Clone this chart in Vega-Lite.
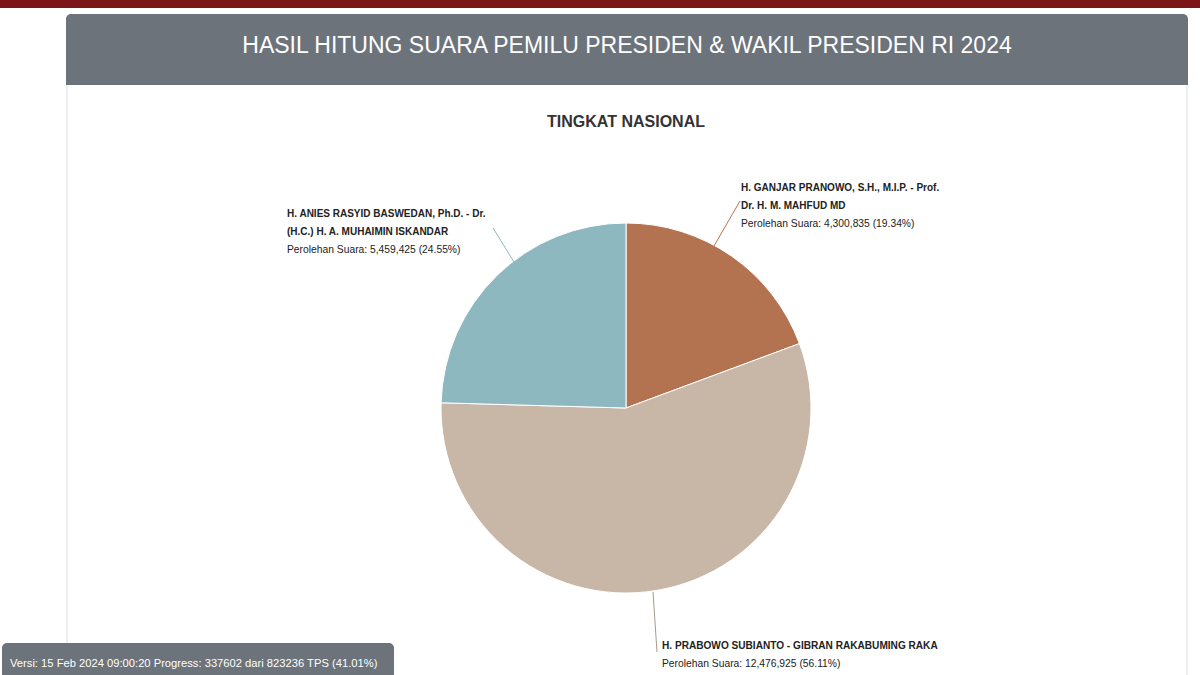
{
  "$schema": "https://vega.github.io/schema/vega-lite/v6.json",
  "width": 1200,
  "height": 675,
  "autosize": "none",
  "padding": 0,
  "background": "white",
  "config": {"view": {"stroke": null}},
  "datasets": {
    "suara": [
      {"kandidat": "Ganjar-Mahfud", "urut": 1, "suara": 4300835, "persen": 19.34, "nama": ["H. GANJAR PRANOWO, S.H., M.I.P. - Prof.", "Dr. H. M. MAHFUD MD"], "perolehan": "Perolehan Suara: 4,300,835 (19.34%)"},
      {"kandidat": "Prabowo-Gibran", "urut": 2, "suara": 12476925, "persen": 56.11, "nama": ["H. PRABOWO SUBIANTO - GIBRAN RAKABUMING RAKA"], "perolehan": "Perolehan Suara: 12,476,925 (56.11%)"},
      {"kandidat": "Anies-Muhaimin", "urut": 3, "suara": 5459425, "persen": 24.55, "nama": ["H. ANIES RASYID BASWEDAN, Ph.D. - Dr.", "(H.C.) H. A. MUHAIMIN ISKANDAR"], "perolehan": "Perolehan Suara: 5,459,425 (24.55%)"}
    ],
    "satu": [{}]
  },
  "layer": [
    {
      "data": {"name": "satu"},
      "mark": {"type": "rect", "color": "#7B1517"},
      "encoding": {
        "x": {"datum": 0, "type": "quantitative", "scale": {"domain": [0, 1200], "nice": false, "zero": false}, "axis": null},
        "x2": {"datum": 1200},
        "y": {"datum": 0, "type": "quantitative", "scale": {"domain": [0, 675], "reverse": true, "nice": false, "zero": false}, "axis": null},
        "y2": {"datum": 8}
      }
    },
    {
      "data": {"name": "satu"},
      "mark": {"type": "rect", "fill": "white", "stroke": "#DADDE0", "strokeWidth": 1},
      "encoding": {
        "x": {"datum": 67, "type": "quantitative"},
        "x2": {"datum": 1187},
        "y": {"datum": 80, "type": "quantitative"},
        "y2": {"datum": 700}
      }
    },
    {
      "data": {"name": "satu"},
      "mark": {"type": "rect", "fill": "#6C737A", "cornerRadiusTopLeft": 5, "cornerRadiusTopRight": 5},
      "encoding": {
        "x": {"datum": 66, "type": "quantitative"},
        "x2": {"datum": 1188},
        "y": {"datum": 14, "type": "quantitative"},
        "y2": {"datum": 85}
      }
    },
    {
      "data": {"name": "satu"},
      "mark": {"type": "text", "text": "HASIL HITUNG SUARA PEMILU PRESIDEN & WAKIL PRESIDEN RI 2024", "font": "Liberation Sans, sans-serif", "fontSize": 23, "color": "white", "align": "center", "baseline": "middle"},
      "encoding": {
        "x": {"datum": 627, "type": "quantitative"},
        "y": {"datum": 46, "type": "quantitative"}
      }
    },
    {
      "data": {"name": "satu"},
      "mark": {"type": "text", "text": "TINGKAT NASIONAL", "font": "Liberation Sans, sans-serif", "fontSize": 16, "fontWeight": "bold", "color": "#333333", "align": "center", "baseline": "middle"},
      "encoding": {
        "x": {"datum": 626, "type": "quantitative"},
        "y": {"datum": 122, "type": "quantitative"}
      }
    },
    {
      "data": {"name": "suara"},
      "mark": {"type": "arc", "radius": 185, "stroke": "white", "strokeWidth": 1},
      "encoding": {
        "x": {"datum": 626, "type": "quantitative"},
        "y": {"datum": 408, "type": "quantitative"},
        "theta": {"field": "suara", "type": "quantitative", "stack": true},
        "order": {"field": "urut", "type": "quantitative"},
        "color": {"field": "kandidat", "type": "nominal", "legend": null,
          "scale": {"domain": ["Ganjar-Mahfud", "Prabowo-Gibran", "Anies-Muhaimin"], "range": ["#B47350", "#C8B7A6", "#8DB8BF"]}}
      }
    },
    {
      "data": {"name": "satu"},
      "mark": {"type": "rule", "color": "#B47350", "strokeWidth": 1},
      "encoding": {"x": {"datum": 740, "type": "quantitative"}, "y": {"datum": 201, "type": "quantitative"}, "x2": {"datum": 714}, "y2": {"datum": 246}}
    },
    {
      "data": {"name": "satu"},
      "mark": {"type": "rule", "color": "#8DB8BF", "strokeWidth": 1},
      "encoding": {"x": {"datum": 493, "type": "quantitative"}, "y": {"datum": 228, "type": "quantitative"}, "x2": {"datum": 514}, "y2": {"datum": 262}}
    },
    {
      "data": {"name": "satu"},
      "mark": {"type": "rule", "color": "#A89A8C", "strokeWidth": 1},
      "encoding": {"x": {"datum": 653, "type": "quantitative"}, "y": {"datum": 592, "type": "quantitative"}, "x2": {"datum": 657}, "y2": {"datum": 652}}
    },
    {
      "data": {"name": "suara"},
      "transform": [{"filter": "datum.urut == 1"}],
      "mark": {"type": "text", "font": "Liberation Sans, sans-serif", "fontSize": 10, "fontWeight": "bold", "color": "#222222", "align": "left", "baseline": "middle", "lineHeight": 18},
      "encoding": {"x": {"datum": 741, "type": "quantitative"}, "y": {"datum": 188, "type": "quantitative"}, "text": {"field": "nama"}}
    },
    {
      "data": {"name": "suara"},
      "transform": [{"filter": "datum.urut == 1"}],
      "mark": {"type": "text", "font": "Liberation Sans, sans-serif", "fontSize": 10.3, "color": "#222222", "align": "left", "baseline": "middle"},
      "encoding": {"x": {"datum": 741, "type": "quantitative"}, "y": {"datum": 224, "type": "quantitative"}, "text": {"field": "perolehan"}}
    },
    {
      "data": {"name": "suara"},
      "transform": [{"filter": "datum.urut == 2"}],
      "mark": {"type": "text", "font": "Liberation Sans, sans-serif", "fontSize": 10.1, "fontWeight": "bold", "color": "#222222", "align": "left", "baseline": "middle", "lineHeight": 18},
      "encoding": {"x": {"datum": 662, "type": "quantitative"}, "y": {"datum": 646, "type": "quantitative"}, "text": {"field": "nama"}}
    },
    {
      "data": {"name": "suara"},
      "transform": [{"filter": "datum.urut == 2"}],
      "mark": {"type": "text", "font": "Liberation Sans, sans-serif", "fontSize": 10.3, "color": "#222222", "align": "left", "baseline": "middle"},
      "encoding": {"x": {"datum": 662, "type": "quantitative"}, "y": {"datum": 664, "type": "quantitative"}, "text": {"field": "perolehan"}}
    },
    {
      "data": {"name": "suara"},
      "transform": [{"filter": "datum.urut == 3"}],
      "mark": {"type": "text", "font": "Liberation Sans, sans-serif", "fontSize": 10, "fontWeight": "bold", "color": "#222222", "align": "left", "baseline": "middle", "lineHeight": 18},
      "encoding": {"x": {"datum": 287, "type": "quantitative"}, "y": {"datum": 214, "type": "quantitative"}, "text": {"field": "nama"}}
    },
    {
      "data": {"name": "suara"},
      "transform": [{"filter": "datum.urut == 3"}],
      "mark": {"type": "text", "font": "Liberation Sans, sans-serif", "fontSize": 10.3, "color": "#222222", "align": "left", "baseline": "middle"},
      "encoding": {"x": {"datum": 287, "type": "quantitative"}, "y": {"datum": 250, "type": "quantitative"}, "text": {"field": "perolehan"}}
    },
    {
      "data": {"name": "satu"},
      "mark": {"type": "rect", "fill": "#6C737A", "cornerRadius": 5},
      "encoding": {
        "x": {"datum": 2, "type": "quantitative"},
        "x2": {"datum": 394},
        "y": {"datum": 643, "type": "quantitative"},
        "y2": {"datum": 680}
      }
    },
    {
      "data": {"name": "satu"},
      "mark": {"type": "text", "text": "Versi: 15 Feb 2024 09:00:20 Progress: 337602 dari 823236 TPS (41.01%)", "font": "Liberation Sans, sans-serif", "fontSize": 11.2, "color": "white", "align": "left", "baseline": "middle"},
      "encoding": {
        "x": {"datum": 10, "type": "quantitative"},
        "y": {"datum": 664, "type": "quantitative"}
      }
    }
  ]
}
